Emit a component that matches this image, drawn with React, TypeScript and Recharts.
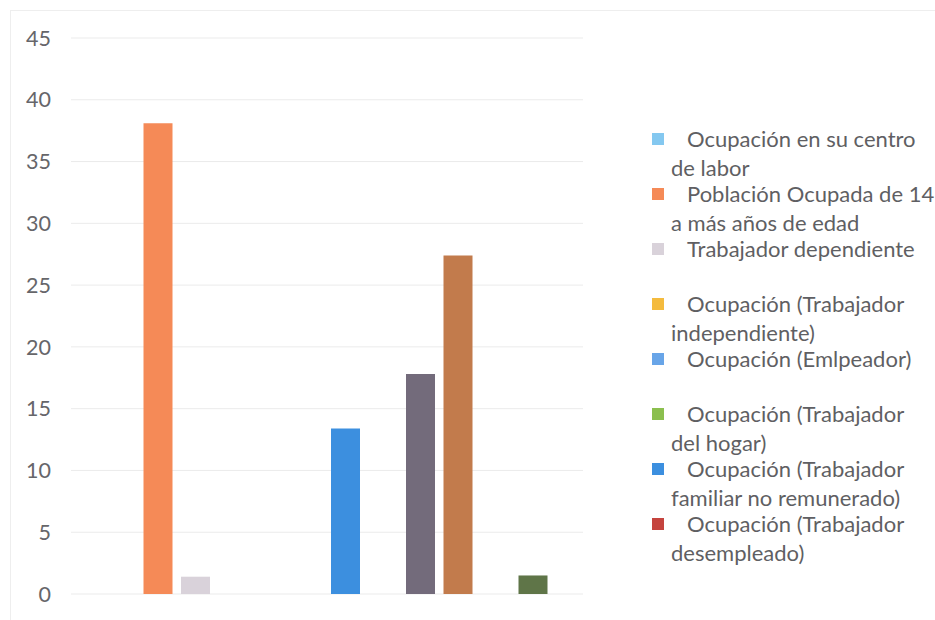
import React from 'react';
import { BarChart, Bar, XAxis, YAxis, CartesianGrid } from 'recharts';

// one category, one bar per series
const seriesNames = [
  'Ocupación en su centro de labor',
  'Población Ocupada de 14 a más años de edad',
  'Trabajador dependiente',
  'Ocupación (Trabajador independiente)',
  'Ocupación (Emlpeador)',
  'Ocupación (Trabajador del hogar)',
  'Ocupación (Trabajador familiar no remunerado)',
  'Ocupación (Trabajador desempleado)',
  'Serie 9',
  'Serie 10',
  'Serie 11',
  'Serie 12',
];

const seriesValues = [0, 38.1, 1.4, 0, 0, 0, 13.4, 0, 17.8, 27.4, 0, 1.5];

const seriesColors = [
  '#84c8f0', '#f58a57', '#d9d2da', '#f4bb3e', '#68a5e8', '#8bbf4e',
  '#3c8fdf', '#c5443e', '#736b7b', '#c27b4c', '#9aa6b8', '#5f7548',
];

const yTicks = [0, 5, 10, 15, 20, 25, 30, 35, 40, 45];

// only the first eight series fit in the legend box
const legendCount = 8;

const row: { [key: string]: number | string } = { name: 'Ocupación' };
seriesNames.forEach((_, i) => {
  row[`s${i}`] = seriesValues[i];
});
const data = [row];

const FONT = 'Lato, "Open Sans", sans-serif';

const SideLegend = () => (
  <div
    style={{
      position: 'absolute',
      left: 651,
      top: 124,
      width: 284,
      fontFamily: FONT,
      fontSize: 22,
      color: '#5f5f63',
    }}
  >
    {seriesNames.slice(0, legendCount).map((name, i) => (
      <div key={name} style={{ position: 'relative', height: 55 }}>
        <span
          style={{
            position: 'absolute',
            left: 1,
            top: 9,
            width: 12,
            height: 12,
            background: seriesColors[i],
          }}
        />
        <div style={{ marginLeft: 20, textIndent: 16, lineHeight: '29px', width: 264, whiteSpace: 'normal' }}>
          {name}
        </div>
      </div>
    ))}
  </div>
);

export default function App() {
  return (
    <div style={{ position: 'absolute', left: 0, top: 0, width: 935, height: 620, background: '#fff' }}>
      <div
        style={{
          position: 'absolute',
          left: 10,
          top: 10,
          width: 925,
          height: 610,
          borderLeft: '1px solid #eeeeee',
          borderTop: '1px solid #eeeeee',
          boxSizing: 'border-box',
        }}
      />
      <BarChart
        width={935}
        height={620}
        data={data}
        margin={{ top: 38, right: 352, bottom: 26, left: 0 }}
        barSize={29}
        barGap={8.5}
      >
        <CartesianGrid vertical={false} stroke="#ebebeb" />
        <XAxis dataKey="name" hide />
        <YAxis
          width={71}
          domain={[0, 45]}
          ticks={yTicks}
          interval={0}
          axisLine={false}
          tickLine={false}
          tickSize={0}
          tickMargin={20}
          tick={{ fill: '#66666a', fontSize: 21.5, fontFamily: FONT }}
        />
        {seriesNames.map((name, i) => (
          <Bar
            key={name}
            dataKey={`s${i}`}
            name={name}
            fill={seriesColors[i]}
            isAnimationActive={false}
          />
        ))}
      </BarChart>
      <SideLegend />
    </div>
  );
}
